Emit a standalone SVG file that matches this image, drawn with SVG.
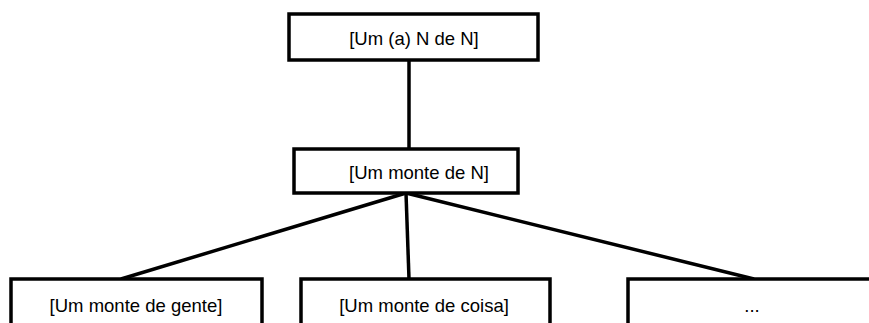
<svg xmlns="http://www.w3.org/2000/svg" width="869" height="323" viewBox="0 0 869 323">
<style>
.box{fill:#fff;stroke:#000;stroke-width:3.5}
.lbl{font-family:"Liberation Sans",Arial,sans-serif;font-size:18.5px;fill:#000;text-anchor:middle}
.conn{stroke:#000;stroke-width:3.5;fill:none}
</style>
<rect width="869" height="323" fill="#fff"/>
<g id="connectors">
<line class="conn" x1="409" y1="60" x2="409" y2="149"/>
<line class="conn" x1="406" y1="193" x2="121" y2="279"/>
<line class="conn" x1="406" y1="193" x2="409" y2="279"/>
<line class="conn" x1="406" y1="193" x2="754" y2="279"/>
</g>
<g id="n_top">
<rect class="box" x="289" y="14" width="249" height="46"/>
<text class="lbl" x="414" y="45">[Um (a) N de N]</text>
</g>
<g id="n_mid">
<rect class="box" x="294" y="149" width="224" height="44"/>
<text class="lbl" x="419" y="179">[Um monte de N]</text>
</g>
<g id="n_gente">
<rect class="box" x="11" y="279" width="251" height="60"/>
<text class="lbl" x="136" y="312">[Um monte de gente]</text>
</g>
<g id="n_coisa">
<rect class="box" x="301" y="279" width="249" height="60"/>
<text class="lbl" x="424" y="312">[Um monte de coisa]</text>
</g>
<g id="n_more">
<rect class="box" x="628" y="279" width="260" height="60"/>
<text class="lbl" x="752" y="312">...</text>
</g>
</svg>
